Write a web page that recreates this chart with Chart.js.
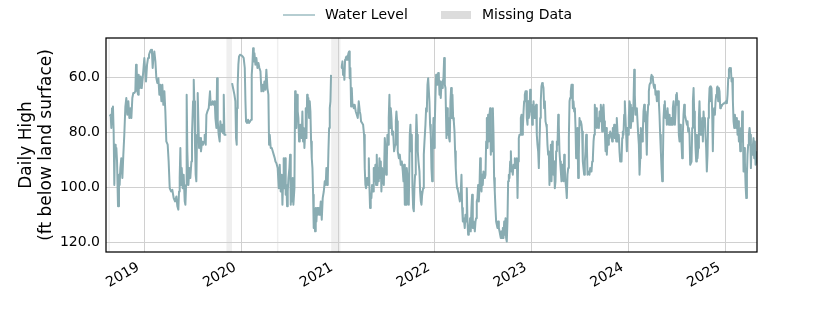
<!DOCTYPE html>
<html>
<head>
<meta charset="utf-8">
<title>Daily High water level</title>
<script src="https://cdn.jsdelivr.net/npm/chart.js@4.4.1/dist/chart.umd.min.js"></script>
<style>
  html, body { margin: 0; padding: 0; background: #fff; }
  #wrap { width: 840px; height: 315px; }
</style>
</head>
<body>
<div id="wrap"><canvas id="chart" width="840" height="315"></canvas></div>
<script>
// ─── Data (decimal year, ft below land surface) ───────────────────────────────
// Record A: Aug 2018 – Nov 2019
const recordA = [
  [2018.642, 74.3], [2018.652, 73.7], [2018.659, 78.5], [2018.666, 71.3], [2018.676, 70.7],
  [2018.683, 79.8], [2018.690, 99.2], [2018.697, 84.6], [2018.704, 88.2], [2018.711, 85.8],
  [2018.718, 90.7], [2018.728, 107.0], [2018.738, 95.5], [2018.745, 99.2], [2018.752, 93.1],
  [2018.762, 89.5], [2018.773, 96.7], [2018.783, 88.2], [2018.793, 81.0], [2018.804, 70.7],
  [2018.814, 67.6], [2018.824, 73.7], [2018.835, 68.8], [2018.845, 74.9], [2018.855, 71.3],
  [2018.866, 74.9], [2018.876, 67.6], [2018.886, 65.8], [2018.897, 65.8], [2018.907, 65.2],
  [2018.914, 55.5], [2018.921, 56.7], [2018.928, 65.2], [2018.935, 66.4], [2018.942, 59.2],
  [2018.952, 64.0], [2018.962, 59.8], [2018.973, 64.0], [2018.983, 60.4], [2018.993, 56.1],
  [2019.000, 53.1], [2019.007, 56.7], [2019.017, 61.6], [2019.028, 55.5], [2019.038, 53.1],
  [2019.048, 51.9], [2019.059, 50.7], [2019.069, 50.1], [2019.079, 51.3], [2019.086, 56.7],
  [2019.093, 53.1], [2019.103, 50.7], [2019.114, 54.3], [2019.124, 60.4], [2019.134, 62.2],
  [2019.145, 60.4], [2019.155, 66.4], [2019.165, 62.8], [2019.176, 68.8], [2019.186, 62.8],
  [2019.196, 70.1], [2019.207, 65.2], [2019.217, 72.5], [2019.227, 83.4], [2019.241, 84.6],
  [2019.251, 90.7], [2019.262, 100.4], [2019.276, 101.6], [2019.289, 101.0], [2019.303, 104.0],
  [2019.317, 105.2], [2019.331, 103.4], [2019.341, 107.0], [2019.351, 108.2], [2019.358, 101.6],
  [2019.365, 96.7], [2019.372, 85.8], [2019.379, 99.2], [2019.386, 93.1], [2019.396, 100.4],
  [2019.406, 95.5], [2019.417, 105.2], [2019.424, 106.4], [2019.431, 99.2], [2019.437, 66.4],
  [2019.444, 87.0], [2019.455, 99.2], [2019.465, 93.1], [2019.475, 96.7], [2019.486, 90.7],
  [2019.492, 81.0], [2019.503, 68.8], [2019.510, 61.0], [2019.516, 68.8], [2019.523, 84.6],
  [2019.530, 95.5], [2019.537, 97.9], [2019.544, 81.0], [2019.551, 65.8], [2019.558, 76.1],
  [2019.565, 85.8], [2019.575, 82.2], [2019.585, 87.0], [2019.596, 83.4], [2019.606, 84.6],
  [2019.617, 83.4], [2019.623, 81.0], [2019.634, 84.6], [2019.641, 73.7], [2019.651, 72.5],
  [2019.665, 71.3], [2019.678, 65.2], [2019.685, 70.1], [2019.696, 70.1], [2019.706, 68.8],
  [2019.716, 70.1], [2019.727, 68.8], [2019.734, 74.9], [2019.744, 78.5], [2019.751, 60.4],
  [2019.758, 76.1], [2019.768, 81.0], [2019.778, 83.4], [2019.785, 76.1], [2019.796, 79.8],
  [2019.806, 77.3], [2019.813, 80.4], [2019.820, 66.4], [2019.827, 81.0], [2019.837, 81.0],
  [2019.847, 81.0]
];

// Record B: Nov 2019 – Dec 2020
const recordB = [
  [2019.906, 62.2], [2019.916, 64.0], [2019.930, 66.4], [2019.940, 68.8], [2019.947, 82.2],
  [2019.954, 84.6], [2019.957, 71.3], [2019.964, 62.8], [2019.971, 55.5], [2019.978, 52.5],
  [2019.988, 51.9], [2020.002, 52.1], [2020.016, 52.5], [2020.026, 53.1], [2020.037, 56.7],
  [2020.044, 68.8], [2020.050, 76.1], [2020.061, 76.7], [2020.071, 75.5], [2020.081, 76.7],
  [2020.092, 76.1], [2020.102, 75.5], [2020.109, 59.2], [2020.116, 55.5], [2020.123, 49.5],
  [2020.130, 54.3], [2020.137, 51.3], [2020.147, 55.5], [2020.157, 53.1], [2020.168, 56.7],
  [2020.178, 54.9], [2020.188, 56.7], [2020.199, 57.9], [2020.209, 65.2], [2020.219, 62.8],
  [2020.230, 65.2], [2020.240, 61.6], [2020.250, 64.6], [2020.260, 57.3], [2020.271, 64.0],
  [2020.281, 66.4], [2020.288, 84.6], [2020.295, 81.0], [2020.305, 85.8], [2020.316, 85.8],
  [2020.326, 87.0], [2020.336, 88.2], [2020.347, 89.5], [2020.354, 90.7], [2020.364, 91.3],
  [2020.377, 93.1], [2020.388, 100.4], [2020.398, 91.9], [2020.408, 101.6], [2020.419, 95.5],
  [2020.426, 106.4], [2020.433, 97.9], [2020.439, 89.5], [2020.446, 100.4], [2020.453, 89.5],
  [2020.460, 102.8], [2020.467, 99.2], [2020.474, 107.0], [2020.481, 101.6], [2020.488, 96.7],
  [2020.498, 93.1], [2020.505, 88.2], [2020.512, 106.4], [2020.519, 97.9], [2020.526, 105.2],
  [2020.532, 96.7], [2020.539, 106.4], [2020.550, 100.4], [2020.557, 65.2], [2020.563, 68.8],
  [2020.570, 78.5], [2020.577, 66.4], [2020.584, 72.5], [2020.591, 74.9], [2020.598, 83.4],
  [2020.605, 78.5], [2020.612, 77.3], [2020.619, 78.5], [2020.625, 82.2], [2020.632, 72.5],
  [2020.639, 83.4], [2020.646, 78.5], [2020.653, 85.8], [2020.660, 81.0], [2020.667, 71.3],
  [2020.674, 82.2], [2020.681, 66.4], [2020.687, 72.5], [2020.694, 67.6], [2020.701, 74.9],
  [2020.708, 68.8], [2020.715, 72.5], [2020.722, 83.4], [2020.729, 89.5], [2020.736, 93.1],
  [2020.743, 102.8], [2020.749, 114.9], [2020.756, 111.3], [2020.763, 116.1], [2020.770, 107.6],
  [2020.777, 112.5], [2020.784, 107.6], [2020.791, 110.1], [2020.801, 107.6], [2020.811, 110.1],
  [2020.822, 105.2], [2020.832, 111.9], [2020.842, 104.0], [2020.853, 101.6], [2020.863, 97.9],
  [2020.873, 99.2], [2020.880, 93.1], [2020.887, 99.2], [2020.894, 97.9], [2020.901, 87.0],
  [2020.908, 78.5], [2020.915, 71.3], [2020.922, 68.8], [2020.928, 59.2]
];

// Record C: Jan 2021 – Apr 2025
const recordC = [
  [2021.032, 56.7], [2021.039, 56.1], [2021.046, 54.3], [2021.052, 59.2], [2021.059, 57.3],
  [2021.066, 61.0], [2021.073, 53.7], [2021.080, 53.1], [2021.087, 52.5], [2021.094, 53.7],
  [2021.101, 52.5], [2021.108, 51.3], [2021.115, 50.7], [2021.121, 60.4], [2021.128, 56.7],
  [2021.135, 70.7], [2021.142, 64.0], [2021.149, 70.1], [2021.156, 70.1], [2021.163, 71.3],
  [2021.173, 70.1], [2021.183, 72.5], [2021.194, 73.7], [2021.204, 74.9], [2021.214, 68.8],
  [2021.225, 72.5], [2021.232, 73.7], [2021.238, 76.1], [2021.249, 76.7], [2021.259, 77.3],
  [2021.269, 81.0], [2021.276, 93.1], [2021.283, 99.2], [2021.290, 100.4], [2021.300, 96.7],
  [2021.311, 99.2], [2021.318, 89.5], [2021.324, 99.2], [2021.331, 107.6], [2021.338, 102.8],
  [2021.345, 104.0], [2021.352, 99.2], [2021.362, 101.6], [2021.369, 93.1], [2021.376, 97.9],
  [2021.386, 91.9], [2021.393, 99.2], [2021.400, 88.2], [2021.407, 99.2], [2021.414, 93.1],
  [2021.421, 97.9], [2021.428, 89.5], [2021.435, 96.7], [2021.442, 90.7], [2021.448, 101.6],
  [2021.455, 93.1], [2021.466, 96.7], [2021.473, 99.2], [2021.483, 82.2], [2021.490, 85.8],
  [2021.497, 95.5], [2021.504, 90.7], [2021.510, 81.0], [2021.517, 84.6], [2021.524, 74.9],
  [2021.531, 66.4], [2021.538, 78.5], [2021.545, 71.3], [2021.552, 74.9], [2021.559, 81.0],
  [2021.569, 79.8], [2021.579, 87.0], [2021.590, 84.6], [2021.597, 76.1], [2021.603, 72.5],
  [2021.610, 76.1], [2021.617, 87.0], [2021.628, 89.5], [2021.638, 88.2], [2021.648, 91.9],
  [2021.659, 90.7], [2021.669, 94.3], [2021.676, 97.9], [2021.683, 91.9], [2021.690, 106.4],
  [2021.696, 95.5], [2021.703, 106.4], [2021.710, 93.1], [2021.721, 97.9], [2021.731, 106.4],
  [2021.741, 81.0], [2021.748, 77.3], [2021.755, 87.0], [2021.762, 81.0], [2021.769, 100.4],
  [2021.776, 107.6], [2021.783, 108.8], [2021.789, 100.4], [2021.796, 95.5], [2021.803, 84.6],
  [2021.810, 73.7], [2021.817, 81.0], [2021.824, 87.0], [2021.831, 90.7], [2021.841, 94.3],
  [2021.848, 101.6], [2021.855, 105.2], [2021.862, 106.4], [2021.869, 102.8], [2021.879, 100.4],
  [2021.886, 88.2], [2021.893, 83.4], [2021.903, 77.3], [2021.910, 71.3], [2021.917, 72.5],
  [2021.924, 62.8], [2021.931, 60.4], [2021.937, 60.4], [2021.944, 68.8], [2021.951, 77.3],
  [2021.958, 81.0], [2021.965, 93.1], [2021.972, 97.9], [2021.979, 83.4], [2021.986, 74.9],
  [2021.993, 85.8], [2021.999, 77.3], [2022.006, 67.6], [2022.013, 59.2], [2022.020, 61.6],
  [2022.027, 62.8], [2022.034, 58.5], [2022.041, 59.2], [2022.048, 66.4], [2022.055, 61.6],
  [2022.061, 67.6], [2022.068, 62.8], [2022.075, 64.0], [2022.082, 61.6], [2022.089, 60.4],
  [2022.096, 53.1], [2022.103, 62.8], [2022.110, 64.0], [2022.120, 82.2], [2022.127, 71.3],
  [2022.134, 81.0], [2022.141, 74.9], [2022.147, 82.2], [2022.154, 83.4], [2022.161, 68.8],
  [2022.168, 64.0], [2022.175, 74.9], [2022.182, 66.4], [2022.189, 74.9], [2022.196, 76.1],
  [2022.203, 79.8], [2022.209, 87.0], [2022.216, 93.1], [2022.223, 97.9], [2022.230, 100.4],
  [2022.237, 101.0], [2022.247, 102.8], [2022.258, 105.2], [2022.268, 101.6], [2022.275, 95.5],
  [2022.282, 107.6], [2022.289, 112.5], [2022.296, 111.3], [2022.302, 112.5], [2022.309, 114.9],
  [2022.316, 110.1], [2022.323, 112.5], [2022.330, 100.4], [2022.337, 112.5], [2022.344, 117.3],
  [2022.351, 114.9], [2022.358, 114.9], [2022.364, 111.3], [2022.371, 116.1], [2022.378, 107.6],
  [2022.385, 102.8], [2022.392, 114.9], [2022.399, 112.5], [2022.406, 113.7], [2022.413, 116.1],
  [2022.420, 112.5], [2022.426, 111.3], [2022.433, 105.2], [2022.440, 104.0], [2022.447, 99.2],
  [2022.454, 105.2], [2022.461, 100.4], [2022.468, 89.5], [2022.475, 99.2], [2022.482, 101.6],
  [2022.488, 95.5], [2022.495, 99.2], [2022.502, 94.3], [2022.509, 95.5], [2022.516, 96.7],
  [2022.523, 95.5], [2022.530, 83.4], [2022.537, 74.9], [2022.544, 85.8], [2022.550, 73.7],
  [2022.557, 83.4], [2022.564, 73.7], [2022.571, 71.3], [2022.578, 88.2], [2022.585, 81.0],
  [2022.592, 87.0], [2022.599, 71.3], [2022.606, 81.0], [2022.612, 96.7], [2022.619, 101.6],
  [2022.626, 107.6], [2022.633, 112.5], [2022.640, 113.7], [2022.647, 114.9], [2022.654, 112.5],
  [2022.661, 114.9], [2022.668, 116.1], [2022.674, 117.3], [2022.681, 118.5], [2022.688, 116.1],
  [2022.695, 118.5], [2022.702, 114.9], [2022.709, 118.5], [2022.716, 112.5], [2022.723, 117.3],
  [2022.730, 111.3], [2022.736, 118.5], [2022.743, 119.8], [2022.750, 112.5], [2022.757, 97.9],
  [2022.764, 95.5], [2022.771, 96.7], [2022.778, 90.7], [2022.785, 87.0], [2022.792, 94.3],
  [2022.798, 93.1], [2022.805, 95.5], [2022.812, 91.9], [2022.819, 93.1], [2022.826, 89.5],
  [2022.833, 93.1], [2022.840, 91.9], [2022.847, 89.5], [2022.854, 104.0], [2022.860, 90.7],
  [2022.867, 82.2], [2022.874, 81.0], [2022.881, 81.0], [2022.888, 74.9], [2022.895, 73.7],
  [2022.902, 81.0], [2022.909, 78.5], [2022.916, 72.5], [2022.922, 68.8], [2022.929, 66.4],
  [2022.936, 65.2], [2022.943, 65.2], [2022.950, 74.9], [2022.957, 77.3], [2022.964, 68.8],
  [2022.970, 74.9], [2022.977, 73.7], [2022.984, 64.6], [2022.991, 72.5], [2022.998, 70.1],
  [2023.005, 77.3], [2023.012, 74.9], [2023.019, 68.8], [2023.026, 72.5], [2023.032, 74.9],
  [2023.039, 71.3], [2023.046, 70.1], [2023.053, 81.0], [2023.060, 84.6], [2023.067, 87.0],
  [2023.074, 93.1], [2023.081, 83.4], [2023.088, 74.9], [2023.094, 68.8], [2023.101, 63.4],
  [2023.108, 62.2], [2023.115, 62.8], [2023.122, 64.0], [2023.129, 71.3], [2023.136, 68.8],
  [2023.143, 76.1], [2023.150, 77.3], [2023.156, 78.5], [2023.163, 84.6], [2023.170, 88.2],
  [2023.177, 87.0], [2023.184, 99.2], [2023.191, 88.2], [2023.198, 84.6], [2023.205, 97.9],
  [2023.212, 83.4], [2023.218, 87.0], [2023.225, 95.5], [2023.232, 90.7], [2023.239, 100.4],
  [2023.246, 97.9], [2023.253, 87.0], [2023.260, 83.4], [2023.267, 84.6], [2023.274, 73.7],
  [2023.280, 77.3], [2023.287, 87.0], [2023.294, 90.7], [2023.301, 94.3], [2023.308, 97.9],
  [2023.315, 91.9], [2023.322, 93.1], [2023.329, 97.9], [2023.336, 88.2], [2023.342, 93.1],
  [2023.349, 97.9], [2023.356, 100.4], [2023.363, 104.0], [2023.370, 95.5], [2023.377, 93.1],
  [2023.384, 82.2], [2023.391, 68.8], [2023.397, 67.6], [2023.404, 65.2], [2023.411, 62.8],
  [2023.418, 62.8], [2023.425, 71.3], [2023.432, 68.8], [2023.439, 72.5], [2023.446, 71.3],
  [2023.453, 78.5], [2023.459, 89.5], [2023.466, 84.6], [2023.473, 78.5], [2023.480, 96.7],
  [2023.487, 88.2], [2023.494, 74.9], [2023.501, 77.3], [2023.508, 76.1], [2023.515, 77.3],
  [2023.521, 79.8], [2023.528, 90.7], [2023.535, 93.1], [2023.542, 95.5], [2023.549, 90.7],
  [2023.556, 87.0], [2023.563, 81.0], [2023.570, 84.6], [2023.577, 95.5], [2023.583, 94.3],
  [2023.590, 94.3], [2023.597, 95.5], [2023.604, 93.1], [2023.611, 94.3], [2023.618, 94.3],
  [2023.625, 90.7], [2023.632, 89.5], [2023.639, 83.4], [2023.645, 81.0], [2023.652, 70.1],
  [2023.659, 74.9], [2023.666, 71.3], [2023.673, 78.5], [2023.680, 74.9], [2023.687, 77.3],
  [2023.694, 78.5], [2023.701, 72.5], [2023.707, 76.1], [2023.714, 70.1], [2023.721, 73.7],
  [2023.728, 79.8], [2023.735, 71.3], [2023.742, 70.1], [2023.749, 76.1], [2023.756, 79.8],
  [2023.763, 87.0], [2023.769, 78.5], [2023.776, 88.2], [2023.783, 83.4], [2023.790, 84.6],
  [2023.797, 81.0], [2023.804, 82.2], [2023.811, 79.8], [2023.824, 81.0], [2023.831, 83.4],
  [2023.838, 78.5], [2023.845, 81.0], [2023.852, 77.3], [2023.859, 82.2], [2023.866, 79.8],
  [2023.873, 83.4], [2023.879, 74.9], [2023.886, 79.8], [2023.893, 83.4], [2023.900, 81.0],
  [2023.907, 87.0], [2023.914, 90.7], [2023.921, 88.2], [2023.928, 90.7], [2023.935, 82.2],
  [2023.941, 79.8], [2023.948, 81.0], [2023.955, 73.7], [2023.962, 68.8], [2023.969, 74.9],
  [2023.976, 81.0], [2023.983, 87.0], [2023.990, 78.5], [2023.997, 81.0], [2024.003, 74.9],
  [2024.010, 68.8], [2024.017, 70.1], [2024.024, 78.5], [2024.031, 74.9], [2024.038, 71.3],
  [2024.045, 76.1], [2024.052, 68.8], [2024.059, 57.3], [2024.065, 66.4], [2024.072, 73.7],
  [2024.079, 72.5], [2024.086, 71.3], [2024.093, 76.1], [2024.100, 81.0], [2024.107, 84.6],
  [2024.114, 95.5], [2024.121, 89.5], [2024.127, 78.5], [2024.134, 81.0], [2024.141, 83.4],
  [2024.148, 79.8], [2024.155, 72.5], [2024.162, 70.1], [2024.169, 76.1], [2024.176, 72.5],
  [2024.183, 81.0], [2024.189, 88.2], [2024.196, 74.9], [2024.203, 70.1], [2024.210, 65.2],
  [2024.217, 62.8], [2024.224, 62.2], [2024.231, 60.4], [2024.238, 59.2], [2024.245, 59.8],
  [2024.251, 60.4], [2024.258, 62.8], [2024.265, 64.0], [2024.272, 62.8], [2024.279, 66.4],
  [2024.286, 65.2], [2024.293, 68.8], [2024.300, 66.4], [2024.307, 65.2], [2024.313, 68.8],
  [2024.320, 73.7], [2024.327, 81.0], [2024.334, 87.0], [2024.341, 93.1], [2024.348, 97.9],
  [2024.355, 90.7], [2024.362, 74.9], [2024.369, 70.1], [2024.375, 68.8], [2024.382, 74.9],
  [2024.389, 72.5], [2024.396, 77.3], [2024.403, 71.3], [2024.410, 74.9], [2024.417, 77.3],
  [2024.424, 73.7], [2024.430, 77.3], [2024.437, 76.1], [2024.444, 74.9], [2024.451, 77.3],
  [2024.458, 71.3], [2024.465, 68.8], [2024.472, 74.9], [2024.479, 77.3], [2024.486, 72.5],
  [2024.492, 66.4], [2024.499, 65.8], [2024.506, 70.1], [2024.513, 68.8], [2024.520, 81.0],
  [2024.527, 83.4], [2024.534, 77.3], [2024.541, 81.0], [2024.548, 84.6], [2024.554, 89.5],
  [2024.561, 81.0], [2024.568, 73.7], [2024.575, 70.1], [2024.582, 73.7], [2024.589, 74.9],
  [2024.596, 76.1], [2024.603, 77.3], [2024.610, 76.1], [2024.616, 79.8], [2024.623, 78.5],
  [2024.630, 81.0], [2024.637, 91.9], [2024.651, 90.7], [2024.658, 78.5], [2024.665, 68.8],
  [2024.672, 64.0], [2024.678, 72.5], [2024.685, 77.3], [2024.692, 85.8], [2024.699, 90.7],
  [2024.706, 81.0], [2024.713, 89.5], [2024.720, 85.8], [2024.727, 74.9], [2024.733, 68.8],
  [2024.740, 77.3], [2024.747, 81.0], [2024.754, 81.0], [2024.761, 74.9], [2024.768, 83.4],
  [2024.775, 72.5], [2024.782, 77.3], [2024.789, 74.9], [2024.795, 81.0], [2024.802, 85.8],
  [2024.809, 94.3], [2024.816, 88.2], [2024.823, 74.9], [2024.830, 70.1], [2024.837, 64.0],
  [2024.844, 63.4], [2024.851, 68.8], [2024.857, 64.0], [2024.864, 72.5], [2024.871, 87.0],
  [2024.878, 73.7], [2024.885, 71.3], [2024.892, 73.7], [2024.899, 68.8], [2024.906, 66.4],
  [2024.913, 64.0], [2024.919, 63.4], [2024.926, 68.8], [2024.933, 64.0], [2024.940, 65.2],
  [2024.947, 71.3], [2024.954, 70.1], [2024.961, 70.7], [2024.968, 70.1], [2024.975, 70.1],
  [2024.985, 69.5], [2024.995, 69.5], [2025.006, 68.8], [2025.016, 69.5], [2025.023, 66.4],
  [2025.030, 60.4], [2025.037, 57.3], [2025.043, 56.7], [2025.050, 57.9], [2025.057, 56.7],
  [2025.064, 61.6], [2025.071, 60.4], [2025.078, 68.8], [2025.085, 76.1], [2025.092, 78.5],
  [2025.099, 73.7], [2025.106, 77.3], [2025.112, 78.5], [2025.119, 74.9], [2025.126, 81.0],
  [2025.133, 76.1], [2025.140, 83.4], [2025.147, 79.8], [2025.154, 87.0], [2025.161, 78.5],
  [2025.168, 83.4], [2025.174, 72.5], [2025.181, 78.5], [2025.188, 94.3], [2025.195, 85.8],
  [2025.202, 90.7], [2025.209, 99.2], [2025.216, 104.0], [2025.223, 95.5], [2025.229, 88.2],
  [2025.236, 84.6], [2025.243, 81.0], [2025.250, 78.5], [2025.257, 81.0], [2025.264, 93.1],
  [2025.271, 84.6], [2025.278, 88.2], [2025.285, 84.6], [2025.291, 82.2], [2025.298, 89.5],
  [2025.305, 83.4], [2025.312, 91.9], [2025.319, 90.7], [2025.326, 87.0]
];

// Missing-data spans (decimal year)
const missingStart = [2018.628, 2019.848, 2020.369, 2020.930];
const missingEnd   = [2018.633, 2019.905, 2020.373, 2021.025];

// Axis ticks
const xTicks = [2019, 2020, 2021, 2022, 2023, 2024, 2025];
const yTicks = [60, 80, 100, 120];
const xRange = [2018.604, 2025.327];
const yRange = [45.8, 123.6];

// ─── Styling ──────────────────────────────────────────────────────────────────
const LINE_COLOR = '#89acb2';
const BAND_COLOR = '#efefef';
const LEGEND_PATCH = '#dcdcdc';
const FONT = 'DejaVu Sans';

Chart.defaults.font.family = FONT;
Chart.defaults.color = '#000';

// Records joined into one series, with a null between them so the line breaks
const points = [];
[recordA, recordB, recordC].forEach((rec, i) => {
  if (i) points.push({ x: (rec[0][0] + points[points.length - 1].x) / 2, y: null });
  rec.forEach(([x, y]) => points.push({ x, y }));
});

// ─── Plugins: missing bands, frame, legend ────────────────────────────────────
const decorations = {
  id: 'decorations',
  beforeDraw(chart) {
    const { ctx, chartArea: a, scales: { x } } = chart;
    ctx.save();
    ctx.fillStyle = '#fff';
    ctx.fillRect(0, 0, chart.width, chart.height);
    ctx.fillStyle = BAND_COLOR;
    missingStart.forEach((s, i) => {
      const x0 = x.getPixelForValue(s);
      const x1 = x.getPixelForValue(missingEnd[i]);
      ctx.fillRect(x0, a.top, Math.max(1.5, x1 - x0), a.bottom - a.top);
    });
    ctx.restore();
  },
  afterDraw(chart) {
    const { ctx, chartArea: a } = chart;
    ctx.save();
    // frame
    ctx.strokeStyle = '#000';
    ctx.lineWidth = 1.25;
    ctx.strokeRect(a.left, a.top, a.right - a.left, a.bottom - a.top);

    // legend
    const cy = 15;
    ctx.strokeStyle = '#9dbcc2';
    ctx.lineWidth = 1.5;
    ctx.beginPath();
    ctx.moveTo(283, cy);
    ctx.lineTo(315, cy);
    ctx.stroke();
    ctx.fillStyle = LEGEND_PATCH;
    ctx.fillRect(441, cy - 4, 30, 8);
    ctx.fillStyle = '#000';
    ctx.font = `14px "${FONT}"`;
    ctx.textBaseline = 'middle';
    ctx.textAlign = 'left';
    ctx.fillText('Water Level', 325, cy);
    ctx.fillText('Missing Data', 482, cy);
    ctx.restore();
  }
};

// ─── Chart ────────────────────────────────────────────────────────────────────
new Chart(document.getElementById('chart'), {
  type: 'line',
  data: {
    datasets: [{
      label: 'Water Level',
      data: points,
      borderColor: LINE_COLOR,
      borderWidth: 2,
      borderJoinStyle: 'round',
      pointRadius: 0,
      spanGaps: false,
      tension: 0,
    }],
  },
  options: {
    responsive: false,
    devicePixelRatio: 1,
    animation: false,
    events: [],
    layout: { padding: { top: 38, right: 83, bottom: 0, left: 0 } },
    plugins: {
      legend: { display: false },
      tooltip: { enabled: false },
    },
    scales: {
      x: {
        type: 'linear',
        min: xRange[0],
        max: xRange[1],
        afterBuildTicks: s => { s.ticks = xTicks.map(v => ({ value: v })); },
        afterFit: s => { s.height = 63; },
        ticks: {
          autoSkip: false,
          minRotation: 30,
          maxRotation: 30,
          padding: 7,
          labelOffset: -6,
          font: { size: 14 },
          color: '#000',
          callback: v => String(v),
        },
        grid: { color: '#d0d0d0', lineWidth: 1, drawTicks: false },
        border: { display: false },
      },
      y: {
        type: 'linear',
        reverse: true,
        min: yRange[0],
        max: yRange[1],
        afterBuildTicks: s => { s.ticks = yTicks.map(v => ({ value: v })); },
        afterFit: s => { s.width = 106; },
        ticks: {
          padding: 6,
          font: { size: 14 },
          color: '#000',
          callback: v => v.toFixed(1),
        },
        grid: { color: '#d0d0d0', lineWidth: 1, drawTicks: false },
        border: { display: false },
        title: {
          display: true,
          text: ['Daily High', '(ft below land surface)'],
          font: { size: 17, lineHeight: 1.15 },
          color: '#000',
          padding: { top: 17, bottom: 0 },
        },
      },
    },
  },
  plugins: [decorations],
});
</script>
</body>
</html>
